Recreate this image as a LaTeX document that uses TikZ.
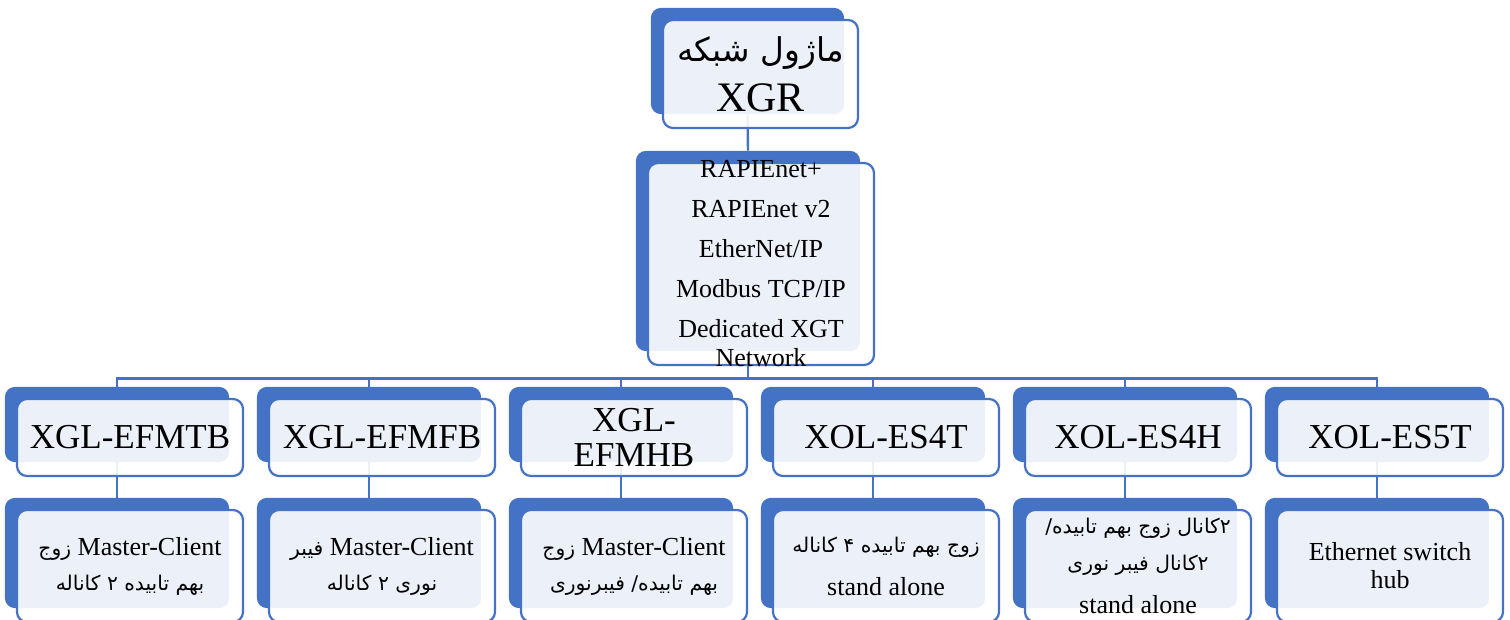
\documentclass[tikz,border=0pt]{standalone}
\usepackage{fontspec}
\setmainfont{Liberation Serif}
\newfontfamily\farsi[Script=Arabic, Scale=0.78]{DejaVu Sans}
\TeXXeTstate=1
\usetikzlibrary{positioning, calc, fit, backgrounds}
\definecolor{smblue}{HTML}{4472C4}

\begin{document}
\begin{tikzpicture}[x=1pt, y=-1pt,
    card/.style={draw=smblue, line width=2.2pt, fill=white, fill opacity=0.9,
      text opacity=1, rounded corners=10pt, align=center,
      inner xsep=0pt, inner ysep=-40pt, minimum width=226pt},
    modbox/.style={card, minimum height=77pt, font=\fontsize{35}{35}\selectfont},
    notebox/.style={card, minimum height=112pt, font=\fontsize{26}{28}\selectfont},
    back/.style={fill=smblue, rounded corners=10pt, inner sep=0pt},
    link/.style={draw=smblue, line width=2.4pt}]
  \useasboundingbox (0,0) rectangle (1510,619);

  \node[card, minimum width=195pt, minimum height=108pt,
        font=\fontsize{42}{50}\selectfont] (xgr) at (760.5,74)
        {{\farsi\beginR ماژول شبکه\endR}\\XGR};
  \node[card, minimum height=202pt, font=\fontsize{26}{29}\selectfont] (proto) at (761,264)
        {RAPIEnet+\\[11pt]RAPIEnet v2\\[11pt]EtherNet/IP\\[11pt]Modbus TCP/IP\\[11pt]Dedicated XGT\\Network};

  \node[modbox] (m1) at (130,437.5) {XGL-EFMTB};
  \node[modbox] (m2) at (382,437.5) {XGL-EFMFB};
  \node[modbox] (m3) at (634,437.5) {XGL-\\EFMHB};
  \node[modbox] (m4) at (886,437.5) {XOL-ES4T};
  \node[modbox] (m5) at (1138,437.5) {XOL-ES4H};
  \node[modbox] (m6) at (1390,437.5) {XOL-ES5T};

  \node[notebox] (s1) at (130,566)
        {\beginR\beginL Master-Client\endL{} {\farsi زوج}\endR\\[7pt]{\farsi\beginR بهم تابیده ۲ کاناله\endR}};
  \node[notebox] (s2) at (382,566)
        {\beginR\beginL Master-Client\endL{} {\farsi فیبر}\endR\\[7pt]{\farsi\beginR نوری ۲ کاناله\endR}};
  \node[notebox] (s3) at (634,566)
        {\beginR\beginL Master-Client\endL{} {\farsi زوج}\endR\\[7pt]{\farsi\beginR بهم تابیده/ فیبرنوری\endR}};
  \node[notebox] (s4) at (886,566)
        {{\farsi\beginR زوج بهم تابیده ۴ کاناله\endR}\\[15pt]stand alone};
  \node[notebox] (s5) at (1138,566)
        {{\farsi\beginR ۲کانال زوج بهم تابیده/\endR}\\[9pt]{\farsi\beginR ۲کانال فیبر نوری\endR}\\[15pt]stand alone};
  \node[notebox] (s6) at (1390,566) {Ethernet switch\\hub};

  \begin{scope}[on background layer]
    \foreach \n in {xgr, proto, m1, m2, m3, m4, m5, m6, s1, s2, s3, s4, s5, s6}
      \node[back, fit={($(\n.north west)+(-11,-11)$) ($(\n.south east)+(-15,-15)$)}] (bk\n) {};
    \draw[link] (bkxgr.south) -- (bkproto.north);
    \foreach \i in {1,...,6} {
      \draw[link] (bkproto.south) -- ++(0,27) -| (bkm\i.north);
      \draw[link] (bkm\i.south) -- (bks\i.north);
    }
  \end{scope}
\end{tikzpicture}
\end{document}
